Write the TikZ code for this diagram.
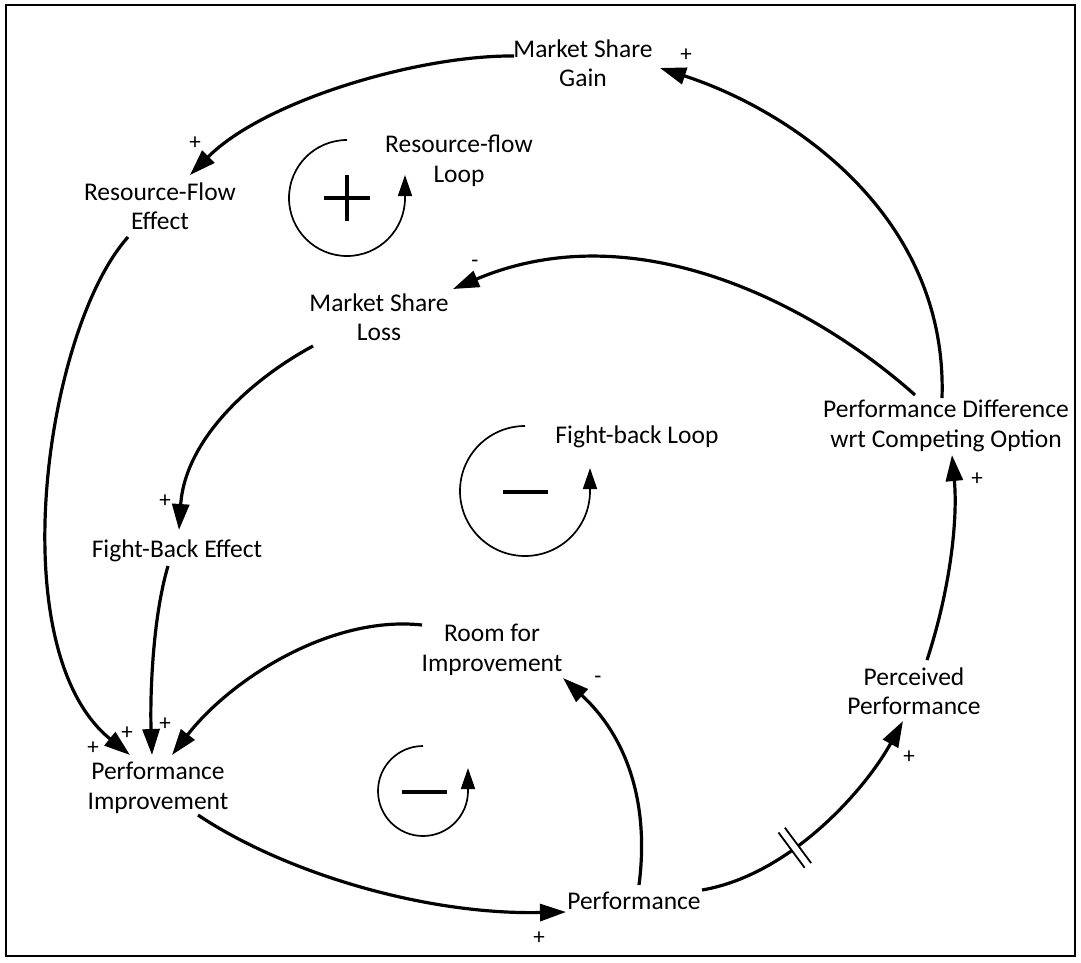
\documentclass[tikz,border=0pt]{standalone}
\usepackage{fontspec}
\setmainfont{Carlito}
\usetikzlibrary{arrows.meta,calc,decorations.markings}
\begin{document}
\begin{tikzpicture}[x=1pt,y=-1pt,
  lbl/.style={font=\fontsize{25.5}{29.5}\selectfont, align=center, inner sep=0pt},
  sgn/.style={font=\fontsize{23}{25}\selectfont, inner sep=0pt},
  conn/.style={line width=3.2pt, -{Triangle[length=26pt,width=17pt]}},
  loopc/.style={line width=1.7pt, -{Triangle[length=21pt,width=14pt]}},
  polar/.style={line width=3.3pt},
  delaymark/.style={postaction={decorate}, decoration={markings, mark=at position #1 with {
     \fill[white] (-3.5,-22) rectangle (3.5,22);
     \draw[-, line width=1.8pt] (-4,-22) -- (-4,22) (4,-22) -- (4,22);}}}]
\useasboundingbox (0,0) rectangle (1081,962);
\draw[line width=2.2pt] (6,5) rectangle (1075,956);

% variables
\node[lbl] (gain) at (583,63) {Market Share\\Gain};
\node[lbl] (rfe) at (160,206) {Resource-Flow\\Effect};
\node[lbl] (rfloop) at (459,161) {Resource-flow\\Loop};
\node[lbl] (loss) at (379,317) {Market Share\\Loss};
\node[lbl] (pdiff) at (946,426) {Performance Difference\\wrt Competing Option};
\node[lbl] (fbloop) at (637,437) {Fight-back Loop};
\node[lbl] (fbe) at (177,551) {Fight-Back Effect};
\node[lbl] (room) at (492,650) {Room for\\Improvement};
\node[lbl] (perceived) at (914,691) {Perceived\\Performance};
\node[lbl] (perfimp) at (158,788) {Performance\\Improvement};
\node[lbl] (perf) at (634,901) {Performance};

% polarity signs
\node[sgn] (s1) at (686,55) {+};
\node[sgn] (s2) at (195,143) {+};
\node[sgn] (s3) at (475,264) {-};
\node[sgn] (s4) at (165,501) {+};
\node[sgn] (s5) at (977,479) {+};
\node[sgn] (s6) at (598,680) {-};
\node[sgn] (s7) at (909,757) {+};
\node[sgn] (s8) at (539,938) {+};
\node[sgn] (s9) at (93,748) {+};
\node[sgn] (s10) at (127,733) {+};
\node[sgn] (s11) at (165,724) {+};

% loop symbols
\draw[loopc] (347,140) arc[start angle=-90,end angle=-360,radius=58] -- ++(0,-23);
\draw[polar] (324,198) -- (370,198) (347,175) -- (347,221);
\draw[loopc] (525,426) arc[start angle=-90,end angle=-360,radius=65] -- ++(0,-23);
\draw[polar] (503,492) -- (548,492);
\draw[loopc] (423,746) arc[start angle=-90,end angle=-360,radius=45] -- ++(0,-23);
\draw[polar] (402,792) -- (447,792);

% connectors
\draw[conn] ($(pdiff)+(-4,-28)$) .. controls (948,215) and (790,110) .. ($(gain)+(77,5)$);
\draw[conn] ($(gain)+(-69,-7)$) .. controls (420,55) and (265,100) .. ($(rfe)+(30,-31)$);
\draw[conn] ($(rfe)+(-32,31)$) .. controls (45,330) and (0,650) .. ($(perfimp)+(-28,-33)$);
\draw[conn] ($(pdiff)+(-31,-31)$) .. controls (820,310) and (640,210) .. ($(loss)+(74,-28)$);
\draw[conn] ($(loss)+(-66,29)$) .. controls (250,380) and (185,440) .. ($(fbe)+(2,-21)$);
\draw[conn] ($(fbe)+(-9,15)$) .. controls (152,620) and (150,700) .. ($(perfimp)+(-6,-33)$);
\draw[conn] ($(room)+(-70,-25)$) .. controls (330,615) and (230,680) .. ($(perfimp)+(14,-33)$);
\draw[conn] ($(perf)+(5,-16)$) .. controls (650,800) and (625,735) .. ($(room)+(71,28)$);
\draw[conn] ($(perfimp)+(40,27)$) .. controls (280,870) and (420,915) .. ($(perf)+(-68,11)$);
\draw[conn, delaymark=0.38] ($(perf)+(68,-11)$) .. controls (790,875) and (865,790) .. ($(perceived)+(-11,30)$);
\draw[conn] ($(perceived)+(13,-31)$) .. controls (950,590) and (958,520) .. ($(pdiff)+(6,29)$);
\end{tikzpicture}
\end{document}
